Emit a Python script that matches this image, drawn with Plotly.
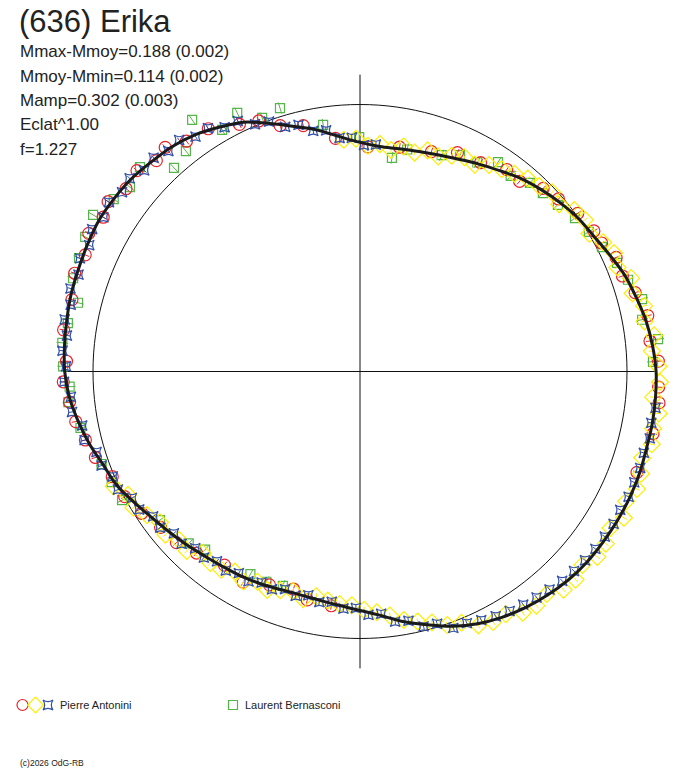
import plotly.graph_objects as go

# ---------------- data ----------------
title_text = "(636) Erika"
stat_lines = ["Mmax-Mmoy=0.188 (0.002)", "Mmoy-Mmin=0.114 (0.002)",
              "Mamp=0.302 (0.003)", "Eclat^1.00", "f=1.227"]
observer_names = ["Pierre Antonini", "Laurent Bernasconi"]
copyright_text = "(c)2026 OdG-RB"

# fitted light curve (angle in degrees, radius relative to the mean-level circle)
fit_theta = [0, 5, 10, 15, 20, 25, 30, 35, 40, 45, 50, 55, 60, 65, 70, 75, 80, 85,
             90, 95, 100, 105, 110, 115, 120, 125, 130, 135, 140, 145, 150, 155, 160,
             165, 170, 175, 180, 185, 190, 195, 200, 205, 210, 215, 220, 225, 230, 235,
             240, 245, 250, 255, 260, 265, 270, 275, 280, 285, 290, 295, 300, 305, 310,
             315, 320, 325, 330, 335, 340, 345, 350, 355, 360]
fit_r = [1.109, 1.100, 1.088, 1.071, 1.055, 1.032, 1.012, 0.999, 0.981, 0.962, 0.942,
         0.917, 0.896, 0.877, 0.863, 0.853, 0.847, 0.846, 0.858, 0.883, 0.918, 0.950,
         0.988, 1.030, 1.056, 1.081, 1.098, 1.108, 1.120, 1.126, 1.130, 1.126, 1.122,
         1.120, 1.115, 1.111, 1.106, 1.093, 1.072, 1.049, 1.023, 1.006, 0.978, 0.953,
         0.934, 0.918, 0.903, 0.893, 0.886, 0.878, 0.869, 0.866, 0.870, 0.880, 0.895,
         0.918, 0.952, 0.982, 1.015, 1.042, 1.063, 1.080, 1.093, 1.104, 1.110, 1.112,
         1.114, 1.115, 1.114, 1.111, 1.112, 1.111, 1.109]

mean_circle_r = 1.0
axis_half_length = 1.112

# Pierre Antonini, session 1 (red circles)
red_theta = [2, 6, 11, 16, 20, 24, 28, 31, 36, 41, 45, 50, 54, 60, 66, 72, 80, 88, 96,
             103, 108, 112, 116, 122, 127, 131, 134, 138, 142, 146, 149, 153, 157, 161,
             166, 172, 178, 182, 186, 190, 194, 198, 203, 208, 213, 218, 223, 228, 235,
             241, 247, 253, 257, 263, 340, 348, 354, 357]
red_r = [1.118, 1.092, 1.098, 1.072, 1.046, 1.050, 1.025, 1.022, 1.008, 0.985, 0.970,
         0.930, 0.935, 0.903, 0.897, 0.866, 0.853, 0.842, 0.878, 0.945, 0.968, 1.012,
         1.030, 1.072, 1.080, 1.112, 1.098, 1.124, 1.112, 1.138, 1.122, 1.140, 1.118,
         1.130, 1.112, 1.121, 1.100, 1.112, 1.094, 1.081, 1.060, 1.042, 1.008, 0.998,
         0.975, 0.948, 0.940, 0.915, 0.885, 0.902, 0.868, 0.852, 0.878, 0.884, 1.104,
         1.122, 1.126, 1.120]
red_err = 0.015

# Pierre Antonini, session 2 (yellow diamonds)
yellow_theta = [205, 208, 211, 214, 217, 220, 223, 226, 229, 232, 235, 238, 241, 244,
                247, 250, 253, 256, 259, 262, 265, 268, 271, 274, 277, 280, 283, 286,
                289, 292, 295, 298, 301, 304, 307, 310, 313, 316, 319, 322, 325, 328,
                331, 334, 337, 340, 343, 346, 349, 352, 355, 358, 1, 4, 7, 10, 13, 16,
                19, 22, 25, 28, 31, 34, 37, 40, 43, 46, 49, 52, 55, 58, 61, 64, 67, 70,
                73, 76, 79, 82, 85, 88, 91, 94]
yellow_r = [1.018, 0.984, 0.990, 0.962, 0.938, 0.951, 0.926, 0.934, 0.900, 0.910, 0.906,
            0.884, 0.899, 0.876, 0.889, 0.872, 0.860, 0.879, 0.858, 0.866, 0.874, 0.876,
            0.893, 0.904, 0.921, 0.945, 0.961, 0.978, 1.004, 1.015, 1.049, 1.062, 1.060,
            1.090, 1.098, 1.088, 1.118, 1.122, 1.104, 1.128, 1.124, 1.106, 1.130, 1.109,
            1.127, 1.120, 1.105, 1.126, 1.118, 1.130, 1.102, 1.124, 1.118, 1.096, 1.110,
            1.082, 1.092, 1.062, 1.074, 1.040, 1.050, 1.031, 1.002, 1.016, 1.005, 0.974,
            0.984, 0.966, 0.958, 0.940, 0.925, 0.912, 0.886, 0.893, 0.878, 0.857, 0.866,
            0.845, 0.858, 0.838, 0.855, 0.846, 0.872, 0.870]
yellow_err = 0.012

# Pierre Antonini, session 3 (blue stars)
blue_theta = [86, 89, 92, 95, 98, 101, 104, 107, 110, 113, 116, 119, 122, 125, 128, 131,
              134, 137, 140, 143, 146, 149, 152, 155, 158, 161, 164, 167, 170, 173, 176,
              179, 182, 185, 188, 191, 194, 197, 200, 203, 206, 209, 212, 215, 218, 221,
              224, 227, 230, 233, 236, 239, 242, 245, 248, 251, 254, 257, 260, 263, 266,
              269, 272, 275, 278, 281, 284, 287, 290, 293, 296, 299, 302, 305, 308, 311,
              314, 317, 320, 323, 326, 329, 332, 335, 338, 341, 344, 347, 350, 353]
blue_r = [0.852, 0.848, 0.876, 0.878, 0.912, 0.918, 0.952, 0.958, 0.996, 1.006, 1.044,
          1.046, 1.075, 1.074, 1.100, 1.094, 1.113, 1.105, 1.126, 1.116, 1.134, 1.121,
          1.136, 1.119, 1.131, 1.115, 1.128, 1.112, 1.123, 1.106, 1.117, 1.101, 1.109,
          1.087, 1.089, 1.060, 1.063, 1.032, 1.030, 1.006, 1.009, 0.977, 0.975, 0.946,
          0.950, 0.924, 0.929, 0.905, 0.910, 0.890, 0.899, 0.881, 0.890, 0.872, 0.880,
          0.862, 0.874, 0.860, 0.877, 0.869, 0.890, 0.886, 0.912, 0.911, 0.946, 0.951,
          0.984, 0.988, 1.022, 1.024, 1.036, 1.048, 1.058, 1.066, 1.074, 1.082, 1.090,
          1.096, 1.100, 1.104, 1.106, 1.108, 1.104, 1.110, 1.108, 1.110, 1.106, 1.114,
          1.108, 1.115]
blue_err = 0.012

# Laurent Bernasconi (green squares)
green_theta = [1.9, 6.2, 10.4, 14.4, 18.9, 22.9, 27.2, 31.4, 35.5, 40.1, 44.3, 48.0,
               52.4, 56.6, 60.7, 65.2, 69.3, 78.0, 81.5, 90.2, 98.5, 106.9, 111.1, 115.4,
               119.7, 123.7, 128.3, 132.4, 137.1, 141.3, 145.0, 149.6, 153.9, 158.0,
               162.0, 166.3, 170.6, 174.5, 179.0, 183.0, 186.0, 191.4, 199.7, 204.0,
               208.4, 216.6, 225.1, 229.0, 241.6, 246.0, 250.2]
green_r = [1.098, 1.123, 1.074, 1.091, 1.061, 1.045, 1.019, 1.004, 0.989, 0.969, 0.957,
           0.951, 0.925, 0.939, 0.898, 0.893, 0.866, 0.850, 0.809, 0.878, 0.934, 1.031,
           1.018, 1.072, 1.042, 1.133, 1.052, 1.033, 1.125, 1.104, 1.126, 1.159, 1.146,
           1.135, 1.130, 1.087, 1.109, 1.120, 1.112, 1.089, 1.098, 1.068, 1.028, 1.018,
           1.013, 0.933, 0.909, 0.884, 0.863, 0.862, 0.853]
green_err = 0.022

# ---------------- styling ----------------
FONT = "Liberation Sans, Arial, sans-serif"
TXT = "#222222"
C_RED = "#e8242a"
C_YEL = "#ffee00"
C_BLU = "#3350a8"
C_GRN = "#55b548"
W, H = 688, 768
CX, CY, R_PX = 360.0, 371.5, 267.0
R_MAX = 1.2


def err_segments(theta, r, e):
    tt, rr = [], []
    for t, v in zip(theta, r):
        tt += [t, t, None]
        rr += [v - e, v + e, None]
    return tt, rr


fig = go.Figure()

# reference (mean level) circle
circ_theta = [i * 2 for i in range(181)]
fig.add_trace(go.Scatterpolar(theta=circ_theta, r=[mean_circle_r] * len(circ_theta),
                              mode="lines", line=dict(color="#111111", width=1),
                              hoverinfo="skip"))
# axes cross
fig.add_trace(go.Scatterpolar(theta=[0, 0, 180], r=[axis_half_length, 0, axis_half_length],
                              mode="lines", line=dict(color="#111111", width=1),
                              hoverinfo="skip"))
fig.add_trace(go.Scatterpolar(theta=[90, 0, 270], r=[axis_half_length, 0, axis_half_length],
                              mode="lines", line=dict(color="#111111", width=1),
                              hoverinfo="skip"))

series = [
    (green_theta, green_r, green_err, C_GRN, "square-open", 9),
    (red_theta, red_r, red_err, C_RED, "circle-open", 12),
    (yellow_theta, yellow_r, yellow_err, C_YEL, "diamond-open", 13),
    (blue_theta, blue_r, blue_err, C_BLU, "star-square-open", 9),
]
for th, rr, e, col, sym, sz in series:
    et, er = err_segments(th, rr, e)
    fig.add_trace(go.Scatterpolar(theta=et, r=er, mode="lines",
                                  line=dict(color=col, width=1), hoverinfo="skip",
                                  connectgaps=False))
    fig.add_trace(go.Scatterpolar(theta=th, r=rr, mode="markers",
                                  marker=dict(symbol=sym, size=sz, color=col,
                                              line=dict(width=1.2, color=col))))

# fitted curve on top
fig.add_trace(go.Scatterpolar(theta=fit_theta, r=fit_r, mode="lines",
                              line=dict(color="#1a1a1a", width=3, shape="spline")))

# legend symbols (overlay pixel axes)
leg_y = 705
legend_items = [(22.5, C_RED, "circle-open", 11), (35.5, C_YEL, "diamond-open", 12),
                (48, C_BLU, "star-square-open", 9), (233, C_GRN, "square-open", 9)]
for lx, col, sym, sz in legend_items:
    fig.add_trace(go.Scatter(x=[lx], y=[leg_y], mode="markers", xaxis="x", yaxis="y",
                             marker=dict(symbol=sym, size=sz, color=col,
                                         line=dict(width=1.2, color=col)),
                             hoverinfo="skip"))

half = R_MAX * R_PX
dom_x = [(CX - half) / W, (CX + half) / W]
dom_y = [(H - (CY + half)) / H, (H - (CY - half)) / H]

annotations = [dict(text=title_text, x=17 / W, y=1 - 21.5 / H, xref="paper", yref="paper",
                    xanchor="left", yanchor="middle", showarrow=False,
                    font=dict(family=FONT, size=31, color=TXT))]
stat_centers = [51.2, 76.2, 100.8, 125.0, 149.2]
for s, yc in zip(stat_lines, stat_centers):
    annotations.append(dict(text=s, x=18 / W, y=1 - yc / H, xref="paper", yref="paper",
                            xanchor="left", yanchor="middle", showarrow=False,
                            font=dict(family=FONT, size=17, color=TXT)))
for name, lx in zip(observer_names, [58, 243]):
    annotations.append(dict(text=name, x=lx / W, y=1 - leg_y / H, xref="paper",
                            yref="paper", xanchor="left", yanchor="middle",
                            showarrow=False, font=dict(family=FONT, size=11, color=TXT)))
annotations.append(dict(text=copyright_text, x=18 / W, y=1 - 763 / H, xref="paper",
                        yref="paper", xanchor="left", yanchor="middle", showarrow=False,
                        font=dict(family=FONT, size=8.5, color=TXT)))

fig.update_layout(
    width=W, height=H, margin=dict(l=0, r=0, t=0, b=0),
    paper_bgcolor="white", plot_bgcolor="rgba(0,0,0,0)", showlegend=False,
    polar=dict(domain=dict(x=dom_x, y=dom_y), bgcolor="rgba(0,0,0,0)",
               radialaxis=dict(range=[0, R_MAX], visible=False, showgrid=False,
                               showline=False, showticklabels=False, ticks=""),
               angularaxis=dict(visible=False, showgrid=False, showline=False,
                                showticklabels=False, ticks="", direction="counterclockwise",
                                rotation=0)),
    xaxis=dict(range=[0, W], domain=[0, 1], visible=False, fixedrange=True),
    yaxis=dict(range=[H, 0], domain=[0, 1], visible=False, fixedrange=True),
    annotations=annotations,
)

fig.write_html("out.html", config={"displayModeBar": False},
               post_script="document.body.style.margin='0px';document.body.style.overflow='hidden';")
